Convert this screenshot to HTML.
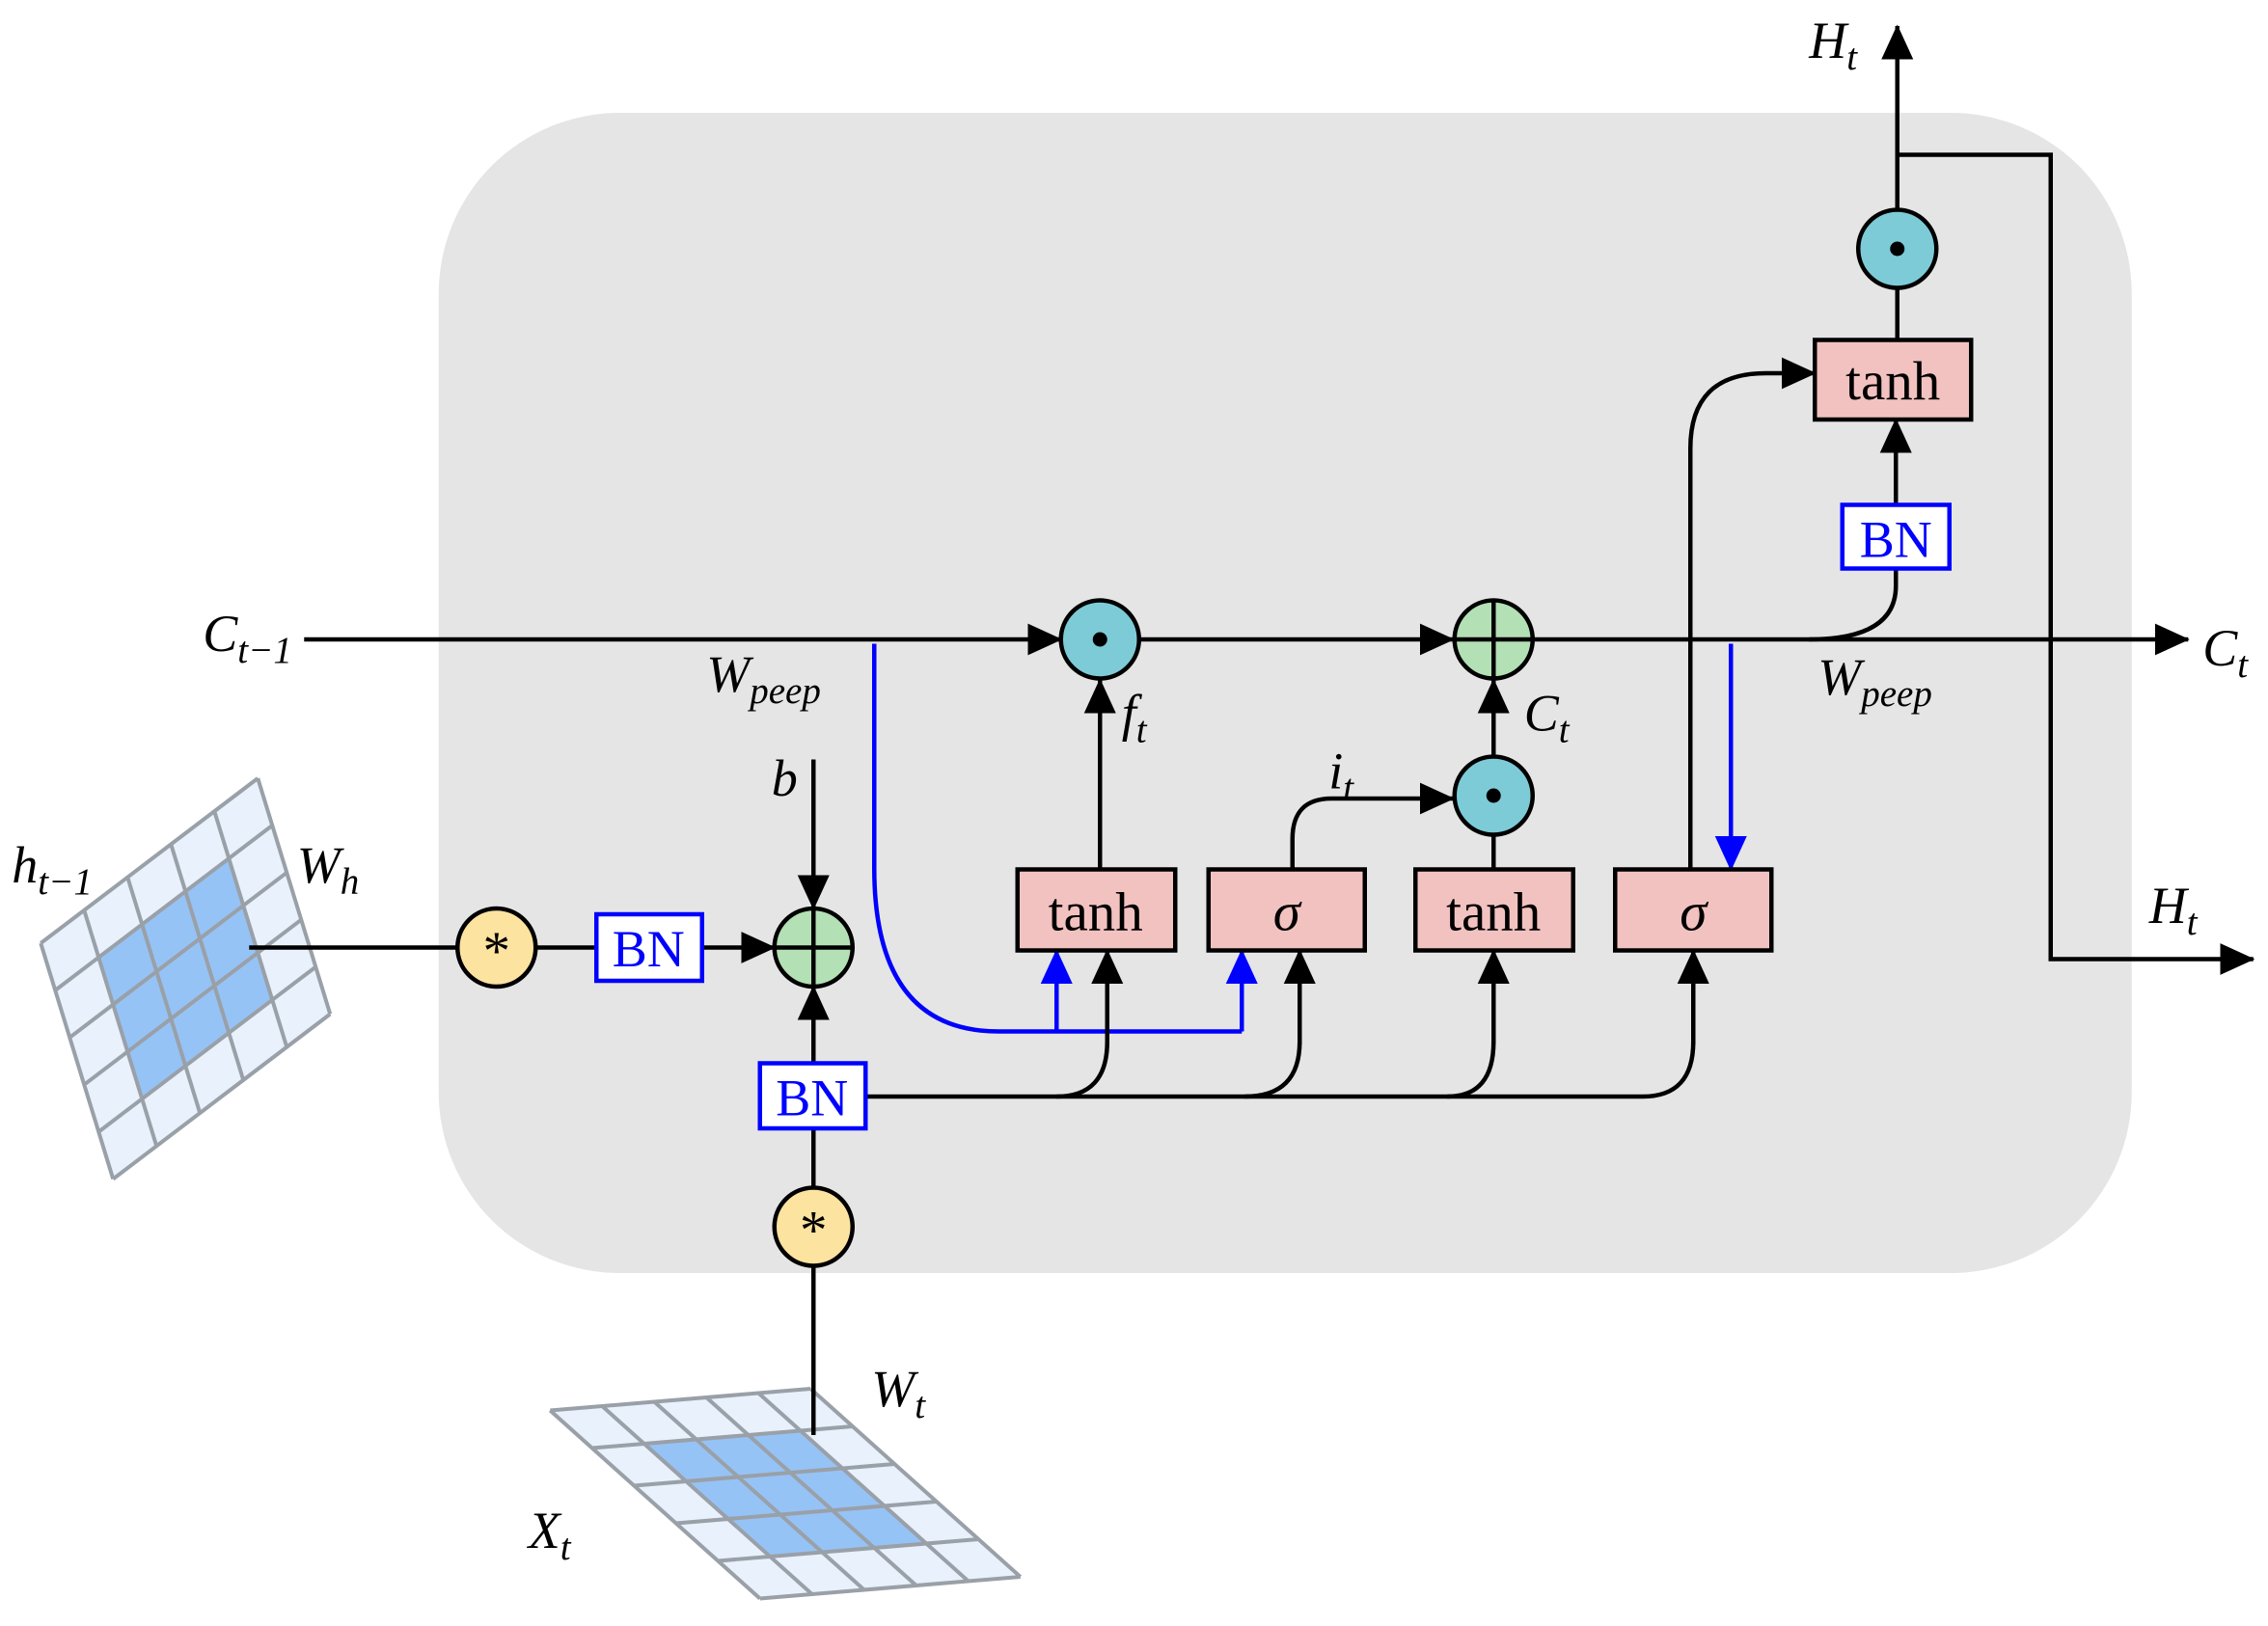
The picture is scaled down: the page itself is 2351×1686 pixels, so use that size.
<!DOCTYPE html>
<html><head><meta charset="utf-8"><style>
html,body{margin:0;padding:0;background:#fff;}
svg{display:block;}
text{font-family:"Liberation Serif",serif;}
</style></head><body>
<svg width="2351" height="1686" viewBox="0 0 1567 1124" xmlns="http://www.w3.org/2000/svg">
<defs>
<marker id="ak" markerWidth="24" markerHeight="24" refX="23" refY="12" orient="auto" markerUnits="userSpaceOnUse" viewBox="0 0 24 24"><path d="M0,1 L24,12 L0,23 Z" fill="#000"/></marker>
<marker id="ab" markerWidth="24" markerHeight="24" refX="23" refY="12" orient="auto" markerUnits="userSpaceOnUse" viewBox="0 0 24 24"><path d="M0,1 L24,12 L0,23 Z" fill="#00f"/></marker>
<g id="grid">
<rect x="0" y="0" width="100" height="100" fill="#e8f1fc"/>
<rect x="20" y="20" width="60" height="60" fill="#96c3f5"/>
<path d="M0,0H100M0,20H100M0,40H100M0,60H100M0,80H100M0,100H100M0,0V100M20,0V100M40,0V100M60,0V100M80,0V100M100,0V100" stroke="#9aa0a8" stroke-width="4" fill="none" vector-effect="non-scaling-stroke"/>
</g>
</defs>
<style>
.k{stroke:#000;stroke-width:3;fill:none}
.b{stroke:#00f;stroke-width:3;fill:none}
.box{fill:#f2c2c0;stroke:#000;stroke-width:3}
.bn{fill:#fff;stroke:#00f;stroke-width:3}
.bnt{fill:#00f;font-size:36px}
.t{font-size:36px;font-style:italic}
.g{font-size:38px}
</style>
<rect x="303" y="78" width="1170" height="802" rx="125" fill="#e5e5e5"/>

<use href="#grid" transform="matrix(1.5,-1.14,0.5,1.63,28,652)"/>
<use href="#grid" transform="matrix(1.8,-0.15,1.45,1.3,380,975)"/>

<line class="k" x1="210" y1="442" x2="733" y2="442" marker-end="url(#ak)"/>
<line class="k" x1="787" y1="442" x2="1004" y2="442" marker-end="url(#ak)"/>
<line class="k" x1="1060" y1="442" x2="1512" y2="442" marker-end="url(#ak)"/>

<path class="b" d="M604,445 V600 Q604,713 690,713 H858"/>
<line class="b" x1="730" y1="713" x2="730" y2="657" marker-end="url(#ab)"/>
<line class="b" x1="858" y1="713" x2="858" y2="657" marker-end="url(#ab)"/>
<line class="b" x1="1196" y1="445" x2="1196" y2="601" marker-end="url(#ab)"/>

<line class="k" x1="172" y1="655" x2="316" y2="655"/>
<line class="k" x1="370" y1="655" x2="412" y2="655"/>
<line class="k" x1="485" y1="655" x2="535" y2="655" marker-end="url(#ak)"/>
<line class="k" x1="562" y1="525" x2="562" y2="628" marker-end="url(#ak)"/>
<line class="k" x1="562" y1="735" x2="562" y2="682" marker-end="url(#ak)"/>
<line class="k" x1="562" y1="780" x2="562" y2="822"/>
<line class="k" x1="562" y1="875" x2="562" y2="992"/>
<path class="k" d="M598,758 H1135 Q1170,758 1170,720"/>
<path class="k" d="M730,758 Q765,758 765,720"/>
<path class="k" d="M860,758 Q898,758 898,720"/>
<path class="k" d="M1000,758 Q1032,758 1032,720"/>
<line class="k" x1="765" y1="722" x2="765" y2="657" marker-end="url(#ak)"/>
<line class="k" x1="898" y1="722" x2="898" y2="657" marker-end="url(#ak)"/>
<line class="k" x1="1032" y1="722" x2="1032" y2="657" marker-end="url(#ak)"/>
<line class="k" x1="1170" y1="722" x2="1170" y2="657" marker-end="url(#ak)"/>

<line class="k" x1="760" y1="601" x2="760" y2="470" marker-end="url(#ak)"/>
<path class="k" d="M893,601 V580 Q893,552 920,552 H1004" marker-end="url(#ak)"/>
<line class="k" x1="1032" y1="601" x2="1032" y2="577"/>
<line class="k" x1="1032" y1="523" x2="1032" y2="470" marker-end="url(#ak)"/>
<path class="k" d="M1168,601 V310 Q1168,258 1220,258 H1254" marker-end="url(#ak)"/>
<path class="k" d="M1250,442 Q1310,442 1310,405 V393"/>
<line class="k" x1="1310" y1="349" x2="1310" y2="290" marker-end="url(#ak)"/>
<line class="k" x1="1311" y1="235" x2="1311" y2="199"/>
<line class="k" x1="1311" y1="145" x2="1311" y2="18" marker-end="url(#ak)"/>
<path class="k" d="M1311,107 H1417 V663 H1557" marker-end="url(#ak)"/>

<rect class="box" x="703" y="601" width="109" height="56"/>
<rect class="box" x="835" y="601" width="108" height="56"/>
<rect class="box" x="978" y="601" width="109" height="56"/>
<rect class="box" x="1116" y="601" width="108" height="56"/>
<rect class="box" x="1254" y="235" width="108" height="55"/>
<text class="g" x="757" y="643" text-anchor="middle">tanh</text>
<text class="g" x="889" y="643" text-anchor="middle" font-style="italic">σ</text>
<text class="g" x="1032" y="643" text-anchor="middle">tanh</text>
<text class="g" x="1170" y="643" text-anchor="middle" font-style="italic">σ</text>
<text class="g" x="1308" y="276" text-anchor="middle">tanh</text>

<rect class="bn" x="412" y="632" width="73" height="46"/><text class="bnt" x="448" y="668" text-anchor="middle">BN</text>
<rect class="bn" x="525" y="735" width="73" height="45"/><text class="bnt" x="561" y="771" text-anchor="middle">BN</text>
<rect class="bn" x="1273" y="349" width="74" height="44"/><text class="bnt" x="1310" y="385" text-anchor="middle">BN</text>

<g stroke="#000" stroke-width="3">
<circle cx="760" cy="442" r="27" fill="#7ecbd8"/>
<circle cx="1032" cy="550" r="27" fill="#7ecbd8"/>
<circle cx="1311" cy="172" r="27" fill="#7ecbd8"/>
<circle cx="1032" cy="442" r="27" fill="#b3e0b5"/>
<circle cx="562" cy="655" r="27" fill="#b3e0b5"/>
<circle cx="343" cy="655" r="27" fill="#fde3a0"/>
<circle cx="562" cy="848" r="27" fill="#fde3a0"/>
<path d="M1032,415V469M1005,442H1059M562,628V682M535,655H589"/>
</g>
<circle cx="760" cy="442" r="5"/><circle cx="1032" cy="550" r="5"/><circle cx="1311" cy="172" r="5"/>
<text x="343" y="670" font-size="38" text-anchor="middle">*</text>
<text x="562" y="863" font-size="38" text-anchor="middle">*</text>

<text class="t" x="140" y="450">C<tspan font-size="26" dy="8">t−1</tspan></text>
<text class="t" x="1522" y="460">C<tspan font-size="26" dy="8">t</tspan></text>
<text class="t" x="1250" y="40">H<tspan font-size="26" dy="8">t</tspan></text>
<text class="t" x="1485" y="638">H<tspan font-size="26" dy="8">t</tspan></text>
<text class="t" x="488" y="478">W<tspan font-size="26" dy="8">peep</tspan></text>
<text class="t" x="1256" y="480">W<tspan font-size="26" dy="8">peep</tspan></text>
<text class="t" x="775" y="505">f<tspan font-size="26" dy="8">t</tspan></text>
<text class="t" x="918" y="545">i<tspan font-size="26" dy="8">t</tspan></text>
<text class="t" x="1053" y="505">C<tspan font-size="26" dy="8">t</tspan></text>
<text class="t" x="533" y="550">b</text>
<text class="t" x="8" y="610">h<tspan font-size="26" dy="8">t−1</tspan></text>
<text class="t" x="205" y="610">W<tspan font-size="26" dy="8">h</tspan></text>
<text class="t" x="602" y="972">W<tspan font-size="26" dy="8">t</tspan></text>
<text class="t" x="365" y="1070">X<tspan font-size="26" dy="8">t</tspan></text>
</svg>
</body></html>
